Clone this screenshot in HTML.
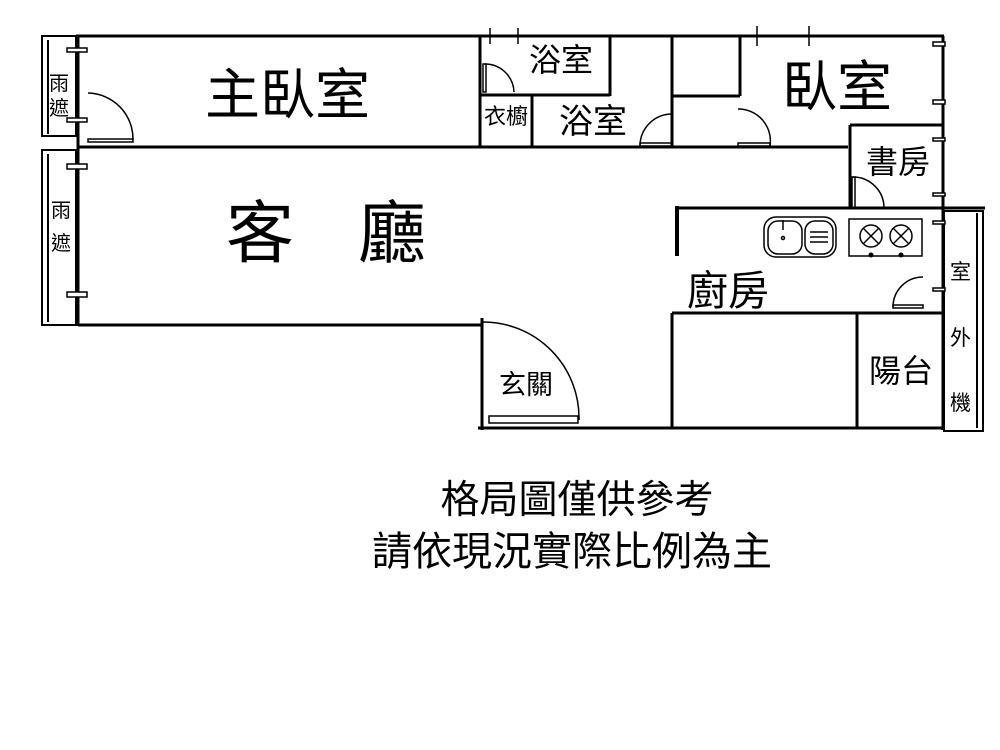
<!DOCTYPE html>
<html><head><meta charset="utf-8"><style>
html,body{margin:0;padding:0;background:#fff;}
svg{display:block}
text{font-family:"Liberation Sans","Noto Sans CJK TC",sans-serif;fill:#000}
</style></head><body>
<svg width="1000" height="750" viewBox="0 0 1000 750" xmlns="http://www.w3.org/2000/svg">
<g stroke="#000" stroke-width="3" fill="none">
<line x1="76" y1="36" x2="944" y2="36"/>
<line x1="78" y1="36" x2="78" y2="326"/>
<line x1="78" y1="147" x2="848" y2="147"/>
<line x1="78" y1="325" x2="483" y2="325"/>
<line x1="482" y1="318" x2="482" y2="430"/>
<line x1="478" y1="428" x2="945" y2="428"/>
<line x1="943" y1="36" x2="943" y2="430"/>
<line x1="480" y1="36" x2="480" y2="147"/>
<line x1="610" y1="36" x2="610" y2="96"/>
<line x1="481" y1="95" x2="610" y2="95"/>
<line x1="532" y1="95" x2="532" y2="147"/>
<line x1="672" y1="36" x2="672" y2="148"/>
<line x1="740" y1="36" x2="740" y2="96"/>
<line x1="672" y1="96" x2="740" y2="96"/>
<line x1="850" y1="125" x2="850" y2="208"/>
<line x1="850" y1="125" x2="943" y2="125"/>
<line x1="677" y1="208" x2="985" y2="208"/>
<line x1="677" y1="206" x2="677" y2="256" stroke-width="4"/>
<line x1="672" y1="313" x2="943" y2="313"/>
<line x1="672" y1="313" x2="672" y2="428"/>
<line x1="857" y1="313" x2="857" y2="428"/>
<rect x="944" y="211" width="39" height="220" stroke-width="2"/>
<line x1="977" y1="213" x2="977" y2="428" stroke-width="2"/>
<rect x="42" y="36" width="34" height="100" stroke-width="2"/>
<line x1="48" y1="40" x2="48" y2="134" stroke-width="2"/>
<rect x="42" y="150" width="34" height="175" stroke-width="2"/>
<line x1="48" y1="154" x2="48" y2="322" stroke-width="2"/>
</g>
<g stroke="#000" stroke-width="1.5" fill="#fff">
<rect x="67" y="48" width="20" height="4"/>
<rect x="67" y="118" width="20" height="4"/>
<rect x="67" y="164" width="20" height="5"/>
<rect x="67" y="292" width="20" height="5"/>
<rect x="933" y="42" width="12" height="4"/>
<rect x="933" y="100" width="12" height="4"/>
<rect x="933" y="138" width="12" height="3"/>
<rect x="933" y="193" width="12" height="3"/>
<rect x="933" y="221" width="12" height="3"/>
<rect x="933" y="288" width="12" height="3"/>
</g>
<g stroke="#000" stroke-width="1.5" fill="none">
<line x1="490" y1="28" x2="490" y2="44"/><line x1="518" y1="28" x2="518" y2="44"/>
<line x1="757" y1="26" x2="757" y2="46"/><line x1="809" y1="26" x2="809" y2="46"/>
<rect x="88" y="139" width="45" height="3"/>
<path d="M88 93 A46 46 0 0 1 133 139"/>
<rect x="483" y="64" width="3" height="28"/>
<path d="M485 64 A29 29 0 0 1 514 92"/>
<path d="M640 146 A32 32 0 0 1 672 114"/>
<rect x="640" y="143" width="32" height="3"/>
<path d="M738 109 A32 32 0 0 1 770 146"/>
<rect x="738" y="143" width="32" height="3"/>
<rect x="852" y="177" width="3" height="31"/>
<path d="M853 177 A31 31 0 0 1 884 208"/>
<path d="M893 307 A30 30 0 0 1 923 277"/>
<rect x="893" y="305" width="30" height="3"/>
<rect x="489" y="416" width="89" height="7"/>
<path d="M482 322 A96 96 0 0 1 579 420"/>
<rect x="764" y="217" width="72" height="40" rx="12"/>
<rect x="768" y="221" width="34" height="33" rx="10"/>
<rect x="805" y="221" width="28" height="33" rx="10"/>
<line x1="783" y1="220" x2="783" y2="230"/>
<circle cx="783" cy="238" r="1.5"/>
<line x1="810" y1="232" x2="828" y2="232"/><line x1="810" y1="237" x2="828" y2="237"/><line x1="810" y1="242" x2="828" y2="242"/>
<rect x="849" y="219" width="73" height="37"/>
<circle cx="871" cy="236" r="11"/><line x1="863" y1="228" x2="879" y2="244"/><line x1="879" y1="228" x2="863" y2="244"/>
<circle cx="901" cy="236" r="11"/><line x1="893" y1="228" x2="909" y2="244"/><line x1="909" y1="228" x2="893" y2="244"/>
</g>
<circle cx="871" cy="255" r="2.5"/><circle cx="901" cy="255" r="2.5"/>
<g>
<text x="205" y="114" font-size="55">主臥室</text>
<text x="226" y="257" font-size="68">客</text>
<text x="358" y="257" font-size="68">廳</text>
<text x="529" y="71" font-size="32">浴室</text>
<text x="559" y="133" font-size="34">浴室</text>
<text x="484" y="124" font-size="22">衣櫥</text>
<text x="782" y="106" font-size="55">臥室</text>
<text x="866" y="173" font-size="32">書房</text>
<text x="687" y="305" font-size="41">廚房</text>
<text x="869" y="382" font-size="32">陽台</text>
<text x="499" y="394" font-size="27">玄關</text>
<text x="950" y="279" font-size="21">室</text>
<text x="950" y="345" font-size="21">外</text>
<text x="950" y="410" font-size="21">機</text>
<text x="49" y="90" font-size="20">雨</text>
<text x="49" y="115" font-size="20">遮</text>
<text x="51" y="217" font-size="20">雨</text>
<text x="51" y="250" font-size="20">遮</text>
<text x="577" y="513" font-size="39" text-anchor="middle">格局圖僅供參考</text>
<text x="572" y="565" font-size="40" text-anchor="middle">請依現況實際比例為主</text>
</g>
</svg>
</body></html>
